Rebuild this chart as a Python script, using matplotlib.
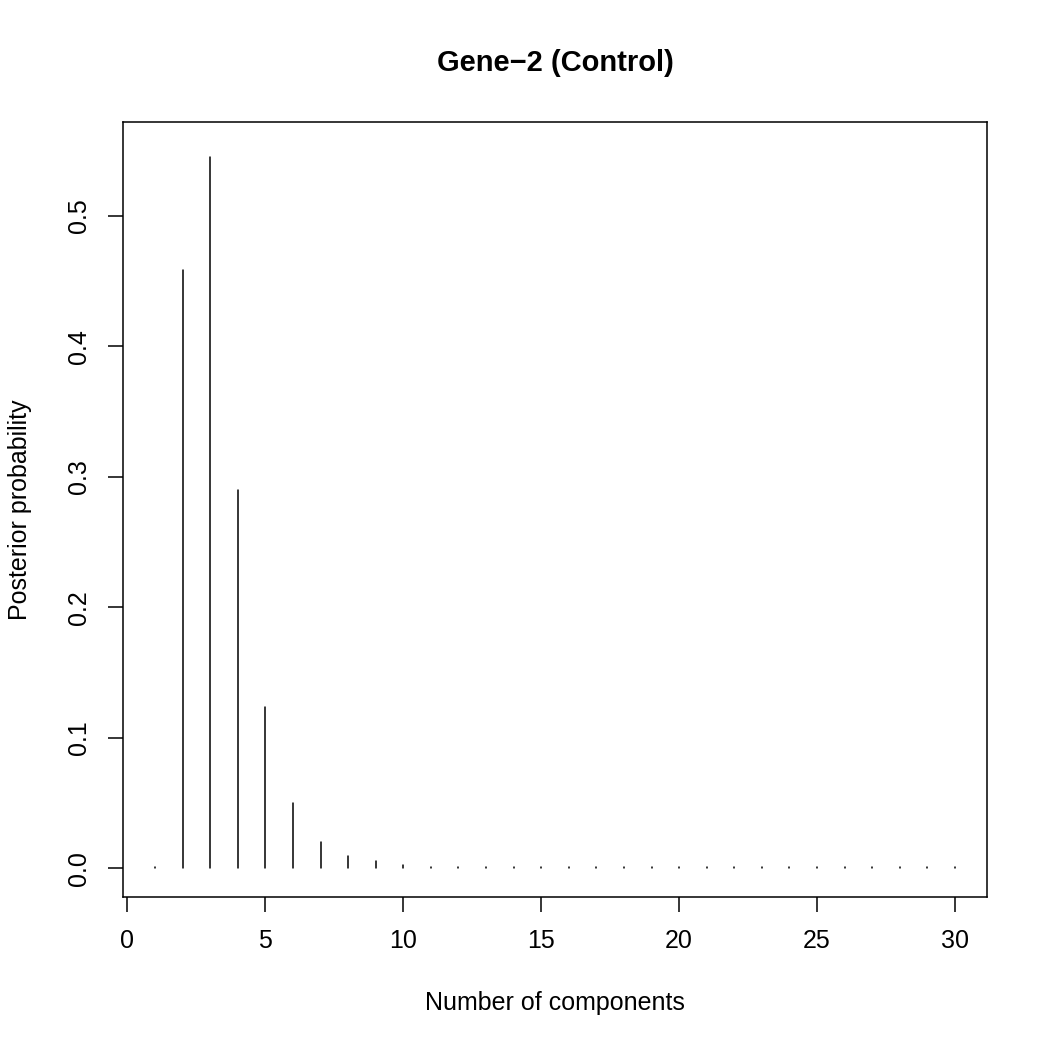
import matplotlib
matplotlib.use("Agg")
import matplotlib.pyplot as plt

# posterior probability for each number of components
n_comp = list(range(1, 31))
post_prob = [0.0009, 0.4585, 0.5448, 0.2900, 0.1237, 0.0500, 0.0205, 0.0092, 0.0056, 0.0024,
             0.0012, 0.0010, 0.0009, 0.0009, 0.0009, 0.0009, 0.0009, 0.0009, 0.0009, 0.0009,
             0.0009, 0.0009, 0.0009, 0.0009, 0.0009, 0.0009, 0.0009, 0.0009, 0.0009, 0.0009]
x_ticks = [0, 5, 10, 15, 20, 25, 30]
y_ticks = [0.0, 0.1, 0.2, 0.3, 0.4, 0.5]

plt.rcParams['font.family'] = ['Liberation Sans', 'DejaVu Sans']

fig = plt.figure(figsize=(10.5, 10.5), dpi=100)
ax = fig.add_axes([123/1050, 153/1050, 864/1050, 775/1050])

ax.vlines(n_comp, 0, post_prob, colors='black', linewidth=1.1, capstyle='round')

ax.set_xlim(-0.16, 31.16)
ax.set_ylim(-0.022, 0.572)
ax.set_xticks(x_ticks)
ax.set_yticks(y_ticks)
ax.set_yticklabels([f"{v:.1f}" for v in y_ticks], rotation=90, va='center')
ax.tick_params(axis='both', direction='out', length=11, width=1.1, labelsize=18, colors='black')
ax.tick_params(axis='x', pad=12)
ax.tick_params(axis='y', pad=12)
for s in ax.spines.values():
    s.set_linewidth(1.1)

fig.text(555/1050, 1 - 63/1050, "Gene\u22122 (Control)", ha='center', va='center',
         fontsize=21, fontweight='bold')
fig.text(555/1050, 1 - 1003/1050, "Number of components", ha='center', va='center', fontsize=18)
fig.text(20/1050, 1 - 510/1050, "Posterior probability", ha='center', va='center',
         fontsize=18, rotation=90)

fig.savefig("out.png", dpi=100)
